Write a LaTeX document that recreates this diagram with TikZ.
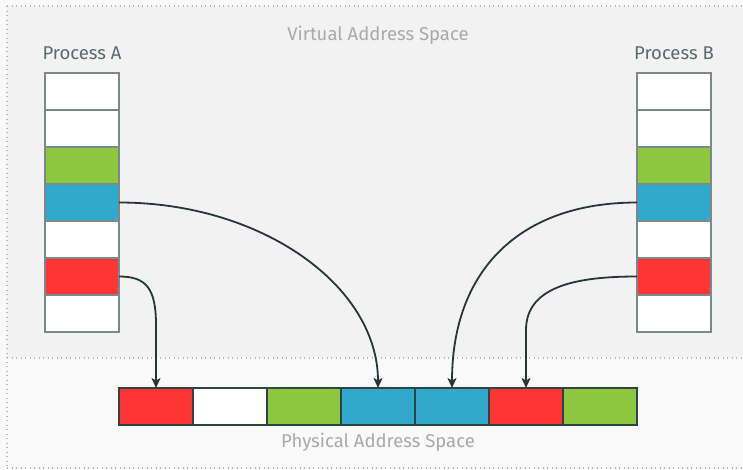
\documentclass[tikz,border=0pt]{standalone}
\usepackage{fontspec}
\setmainfont{Fira Sans}
\usetikzlibrary{arrows.meta}
\definecolor{vbg}{HTML}{F2F2F2}
\definecolor{pbg}{HTML}{F9F9F9}
\definecolor{dotc}{HTML}{B4B9BA}
\definecolor{lbl}{HTML}{A9A9A9}
\definecolor{ptxt}{HTML}{5B6A6C}
\definecolor{vborder}{HTML}{7A8A8B}
\definecolor{pborder}{HTML}{2F4343}
\definecolor{arr}{HTML}{243638}
\definecolor{cred}{HTML}{FF3535}
\definecolor{cgreen}{HTML}{8DC63F}
\definecolor{cblue}{HTML}{31A9CD}
\tikzset{
  vcell/.style={draw=vborder, line width=1.6pt, minimum width=74pt, minimum height=37pt, inner sep=0pt, outer sep=0pt},
  pcell/.style={draw=pborder, line width=1.6pt, minimum width=74pt, minimum height=37pt, inner sep=0pt, outer sep=0pt},
  conn/.style={draw=arr, line width=1.8pt, -{Stealth[length=10pt,width=9pt,inset=2.5pt]}},
  dotline/.style={draw=dotc, line width=1.3pt, dash pattern=on 1.3pt off 3.2pt},
  arealbl/.style={text=lbl, font=\fontsize{18.5}{22}\selectfont},
  proclbl/.style={text=ptxt, font=\fontsize{18.5}{22}\selectfont}
}
\begin{document}
\begin{tikzpicture}[x=1pt,y=-1pt]
\useasboundingbox (0,0) rectangle (743,469);
\fill[pbg] (0,0) rectangle (743,469);
\fill[vbg] (7,6) rectangle (743,358);
\draw[dotline] (7,6) -- (743,6);
\draw[dotline] (7,6) -- (7,469);
\draw[dotline] (7,358) -- (743,358);
\draw[dotline] (7,468) -- (743,468);

\node[arealbl] (vlabel) at (378,35) {Virtual Address Space};
\node[arealbl] (plabel) at (378,442) {Physical Address Space};
\node[proclbl] (plA) at (82,53) {Process A};
\node[proclbl] (plB) at (674,53) {Process B};

% Process A
\node[vcell, fill=white]  (a1) at (82,91.5) {};
\node[vcell, fill=white]  (a2) at (82,128.5) {};
\node[vcell, fill=cgreen] (a3) at (82,165.5) {};
\node[vcell, fill=cblue]  (a4) at (82,202.5) {};
\node[vcell, fill=white]  (a5) at (82,239.5) {};
\node[vcell, fill=cred]   (a6) at (82,276.5) {};
\node[vcell, fill=white]  (a7) at (82,313.5) {};
% Process B
\node[vcell, fill=white]  (b1) at (674,91.5) {};
\node[vcell, fill=white]  (b2) at (674,128.5) {};
\node[vcell, fill=cgreen] (b3) at (674,165.5) {};
\node[vcell, fill=cblue]  (b4) at (674,202.5) {};
\node[vcell, fill=white]  (b5) at (674,239.5) {};
\node[vcell, fill=cred]   (b6) at (674,276.5) {};
\node[vcell, fill=white]  (b7) at (674,313.5) {};
% Physical
\node[pcell, fill=cred]   (p1) at (156,406.5) {};
\node[pcell, fill=white]  (p2) at (230,406.5) {};
\node[pcell, fill=cgreen] (p3) at (304,406.5) {};
\node[pcell, fill=cblue]  (p4) at (378,406.5) {};
\node[pcell, fill=cblue]  (p5) at (452,406.5) {};
\node[pcell, fill=cred]   (p6) at (526,406.5) {};
\node[pcell, fill=cgreen] (p7) at (600,406.5) {};

% Connectors
\draw[conn] (a4.east) .. controls (262,202.5) and (378,286) .. (p4.north);
\draw[conn] (b4.west) .. controls (520,202.5) and (452,270) .. (p5.north);
\draw[conn] (a6.east) .. controls (146,276.5) and (156,288) .. (156,325) -- (p1.north);
\draw[conn] (b6.west) .. controls (580,276.5) and (526,285) .. (526,330) -- (p6.north);
\end{tikzpicture}
\end{document}
